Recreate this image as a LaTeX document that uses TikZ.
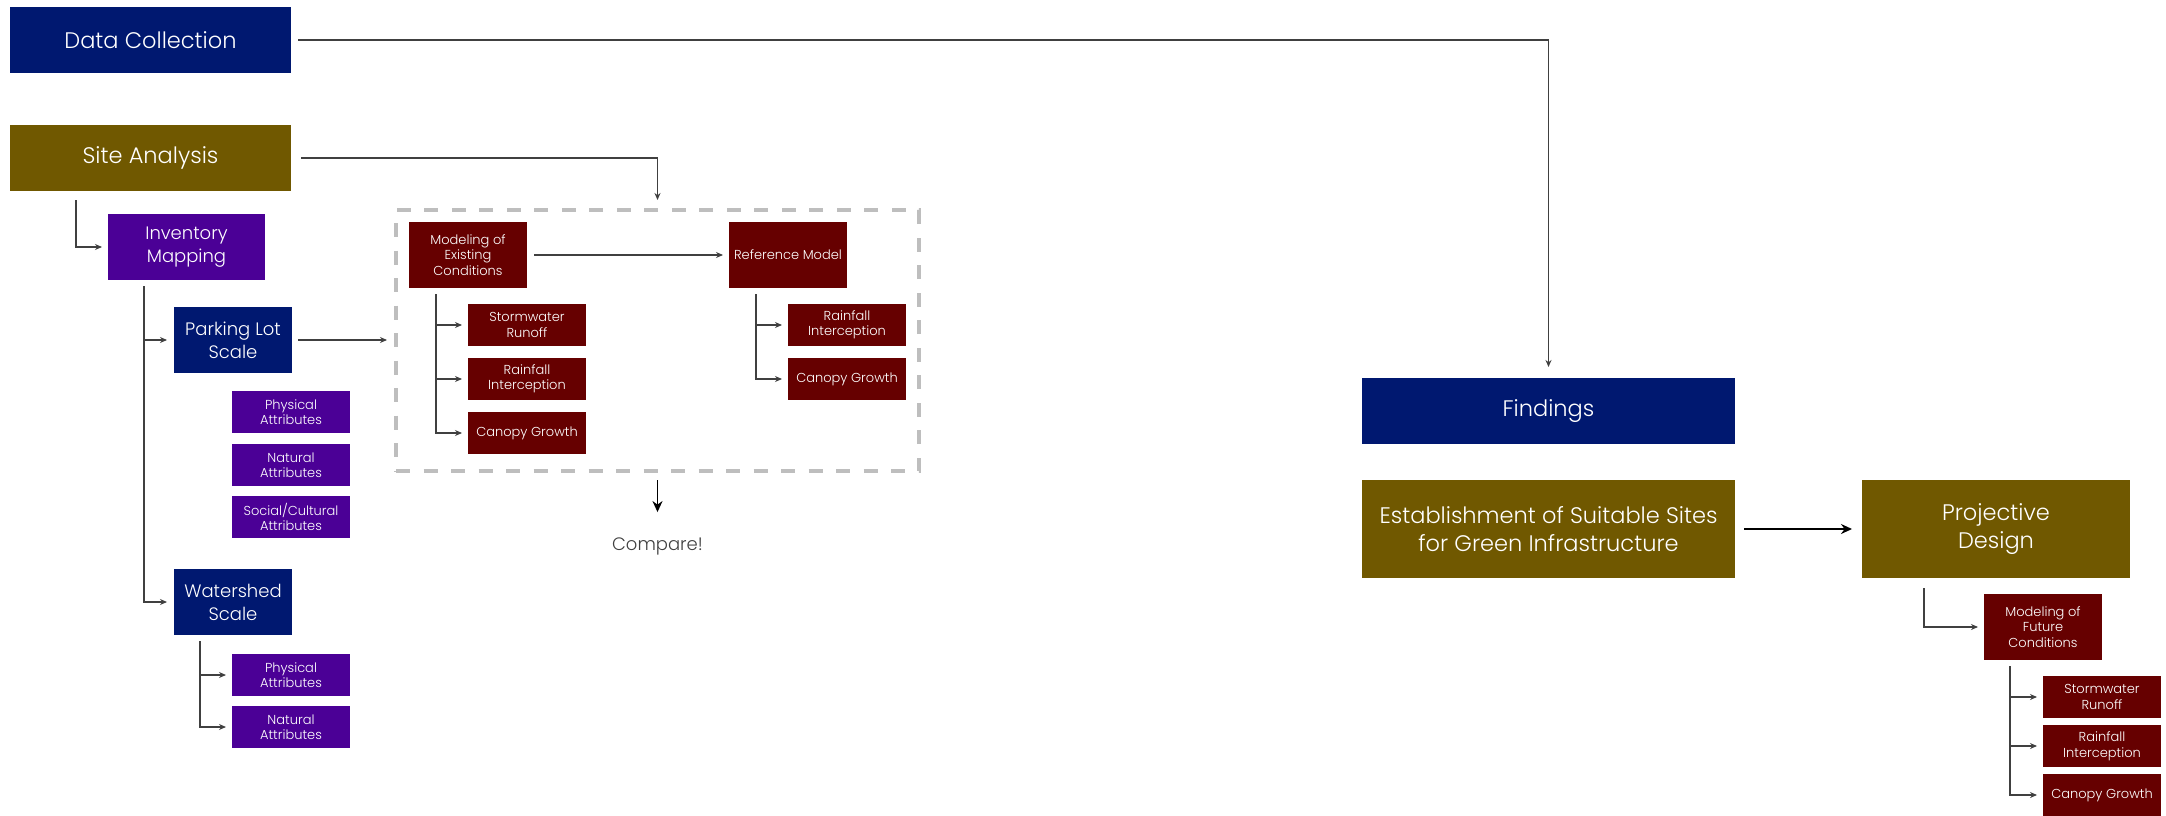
\documentclass[tikz,border=0pt]{standalone}
\usepackage{fontspec}
\setmainfont{Poppins Light}
\usetikzlibrary{arrows.meta,calc}

\definecolor{cNavy}{RGB}{0,24,112}
\definecolor{cOlive}{RGB}{112,88,0}
\definecolor{cPurple}{RGB}{75,0,150}
\definecolor{cMaroon}{RGB}{102,0,0}
\definecolor{cFrame}{RGB}{190,190,190}
\definecolor{cLine}{RGB}{64,64,64}
\definecolor{cNote}{RGB}{64,64,64}

\begin{document}
\begin{tikzpicture}[x=1pt,y=-1pt,
  box/.style={rectangle, inner sep=0pt, outer sep=0pt, text=white, align=center},
  big/.style={box, minimum height=66pt, font=\fontsize{22.5}{28}\selectfont},
  mid/.style={box, minimum width=118pt, minimum height=66pt, font=\fontsize{18}{23}\selectfont},
  small/.style={box, minimum width=118pt, minimum height=42pt, font=\fontsize{13}{15.5}\selectfont},
  smalltall/.style={small, minimum height=66pt},
  conn/.style={draw=cLine, line width=1.1pt, -{Stealth[length=7pt,width=6pt]}},
  heavy/.style={draw=black, line width=1.8pt, -{Stealth[length=11pt,width=10pt]}}
]
\useasboundingbox (0,0) rectangle (2166,816);

% left column: collection and site analysis
\node[big, fill=cNavy, minimum width=281pt] (dc) at (150.5,40) {Data Collection};
\node[big, fill=cOlive, minimum width=281pt] (sa) at (150.5,158) {Site Analysis};
\node[box, fill=cPurple, minimum width=157pt, minimum height=66pt,
      font=\fontsize{18}{23}\selectfont] (inv) at (186.5,247) {Inventory\\Mapping};

\node[mid, fill=cNavy] (pls) at (233,340) {Parking Lot\\Scale};
\node[small, fill=cPurple] (pa1) at (291,412) {Physical\\Attributes};
\node[small, fill=cPurple] (na1) at (291,465) {Natural\\Attributes};
\node[small, fill=cPurple] (sc1) at (291,517) {Social/Cultural\\Attributes};

\node[mid, fill=cNavy] (wss) at (233,602) {Watershed\\Scale};
\node[small, fill=cPurple] (pa2) at (291,675) {Physical\\Attributes};
\node[small, fill=cPurple] (na2) at (291,727) {Natural\\Attributes};

% modelling frame
\node[draw=cFrame, line width=4pt, dash pattern=on 14pt off 13.5pt,
      minimum width=523pt, minimum height=261pt, inner sep=0pt] (frame) at (657.5,340.5) {};
\node[smalltall, fill=cMaroon] (mec) at (468,255) {Modeling of\\Existing\\Conditions};
\node[smalltall, fill=cMaroon] (ref) at (788,255) {Reference Model};
\node[small, fill=cMaroon] (sr1) at (527,325) {Stormwater\\Runoff};
\node[small, fill=cMaroon] (ri1) at (527,379) {Rainfall\\Interception};
\node[small, fill=cMaroon] (cg1) at (527,433) {Canopy Growth};
\node[small, fill=cMaroon] (ri2) at (847,325) {Rainfall\\Interception};
\node[small, fill=cMaroon] (cg2) at (847,379) {Canopy Growth};
\node[inner sep=0pt, anchor=base, text=cNote, font=\fontsize{18}{22}\selectfont] (cmp) at (657.5,550) {Compare!};

% right part: findings and design
\node[big, fill=cNavy, minimum width=373pt] (fnd) at (1548.5,411) {Findings};
\node[big, fill=cOlive, minimum width=373pt, minimum height=98pt] (est) at (1548.5,529)
  {Establishment of Suitable Sites\\for Green Infrastructure};
\node[big, fill=cOlive, minimum width=268pt, minimum height=98pt] (pd) at (1996,529) {Projective\\Design};
\node[smalltall, fill=cMaroon] (mfc) at (2043,627) {Modeling of\\Future\\Conditions};
\node[small, fill=cMaroon] (sr3) at (2102,697) {Stormwater\\Runoff};
\node[small, fill=cMaroon] (ri3) at (2102,746) {Rainfall\\Interception};
\node[small, fill=cMaroon] (cg3) at (2102,795) {Canopy Growth};

% branch origins below boxes
\coordinate (saDrop) at ($(sa.south west)+(66,9)$);
\coordinate (invDrop) at ($(inv.south west)+(36,6)$);
\coordinate (wssDrop) at ($(wss.south west)+(26,6)$);
\coordinate (mecDrop) at ($(mec.south west)+(27,6)$);
\coordinate (refDrop) at ($(ref.south west)+(27,6)$);
\coordinate (pdDrop) at ($(pd.south west)+(62,10)$);
\coordinate (mfcDrop) at ($(mfc.south west)+(26,6)$);

% connectors
\draw[conn, shorten <=7pt, shorten >=11pt] (dc.east) -| (fnd.north);
\draw[conn, shorten <=10pt, shorten >=8pt] (sa.east) -| (frame.north);
\draw[conn, shorten >=6pt] (saDrop) |- (inv.west);

\draw[conn, shorten >=7pt] (invDrop) |- (pls.west);
\draw[conn, shorten >=7pt] (invDrop) |- (wss.west);
\draw[conn, shorten <=6pt, shorten >=7pt] (pls.east) -- (pls.east -| frame.west);

\draw[conn, shorten >=6pt] (wssDrop) |- (pa2.west);
\draw[conn, shorten >=6pt] (wssDrop) |- (na2.west);

\draw[conn, shorten <=7pt, shorten >=6pt] (mec.east) -- (ref.west);
\draw[conn, shorten >=6pt] (mecDrop) |- (sr1.west);
\draw[conn, shorten >=6pt] (mecDrop) |- (ri1.west);
\draw[conn, shorten >=6pt] (mecDrop) |- (cg1.west);
\draw[conn, shorten >=6pt] (refDrop) |- (ri2.west);
\draw[conn, shorten >=6pt] (refDrop) |- (cg2.west);

\draw[heavy, shorten <=7pt, shorten >=25pt] (frame.south) -- (cmp.north);

\draw[heavy, shorten <=9pt, shorten >=10pt] (est.east) -- (pd.west);
\draw[conn, shorten >=6pt] (pdDrop) |- (mfc.west);
\draw[conn, shorten >=6pt] (mfcDrop) |- (sr3.west);
\draw[conn, shorten >=6pt] (mfcDrop) |- (ri3.west);
\draw[conn, shorten >=6pt] (mfcDrop) |- (cg3.west);
\end{tikzpicture}
\end{document}
